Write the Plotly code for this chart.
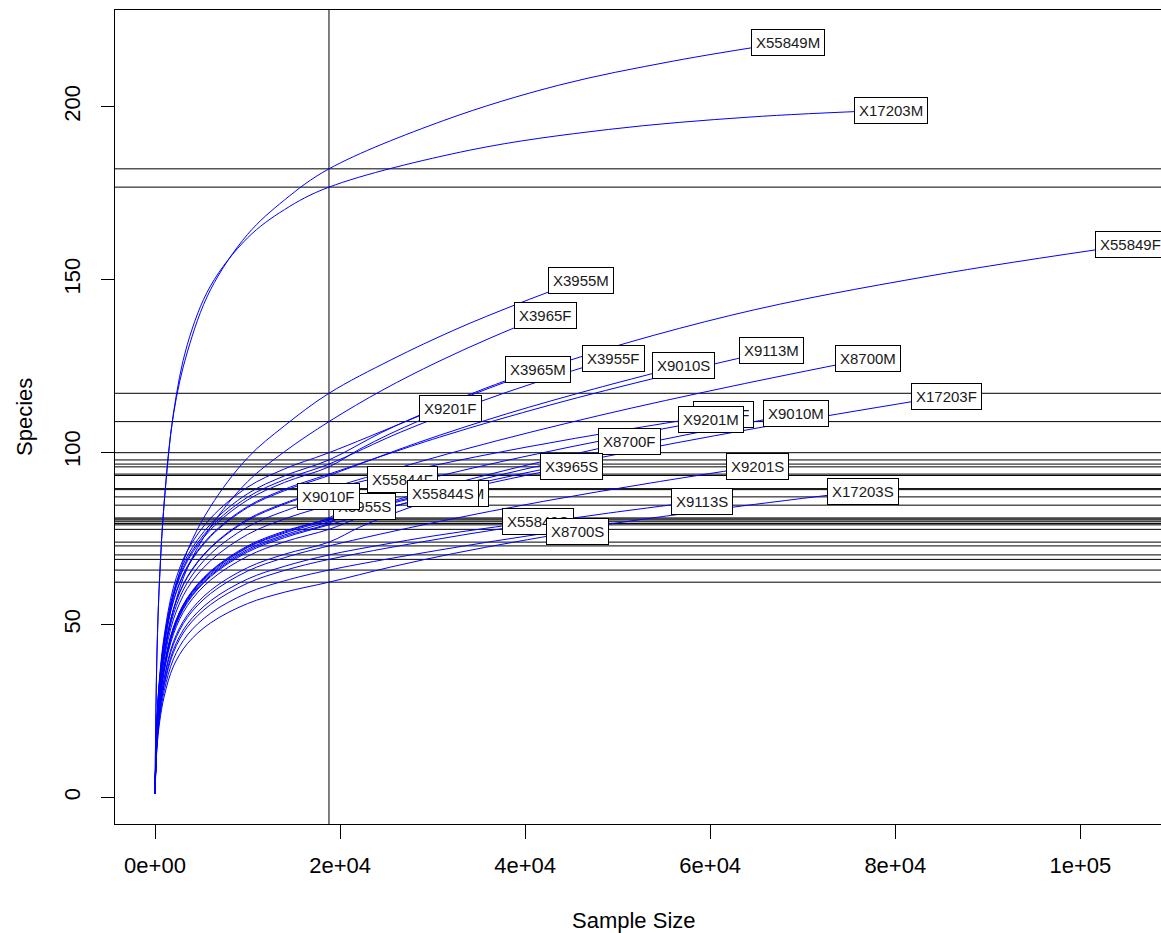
import plotly.graph_objects as go

# ---------------- data ----------------
EARLY_N = [1, 200, 500, 1000, 2000, 3500, 6000, 10000, 14000, 18800]
RARE_SAMPLE = 18800  # rarefaction depth (vertical line)

X55849M_late_n = [31200, 43600, 56000, 68400]
X55849M_s = [1, 40.0, 63.7, 85.5, 111.0, 129.0, 147.0, 163.0, 173.0, 182.0, 196.0, 206.2, 213.2, 218.7]
X17203M_late_n = [34000, 49000, 64300, 79500]
X17203M_s = [1, 40.6, 63.6, 85.7, 111.3, 131.2, 148.1, 162.0, 170.2, 176.7, 187.4, 193.4, 197.0, 199.0]
X55849F_late_n = [40450, 62100, 83750, 105400]
X55849F_s = [1, 22.0, 34.9, 46.9, 60.9, 71.4, 80.8, 89.8, 95.1, 99.8, 122.7, 139.5, 151.0, 160.0]
X3955M_late_n = [25600, 32400, 39200, 46000]
X3955M_s = [1, 21.1, 32.8, 44.5, 58.5, 71.4, 84.2, 98.3, 107.6, 117.0, 126.8, 135.4, 142.9, 149.8]
X3965F_late_n = [24640, 30480, 36310, 42150]
X3965F_s = [1, 19.6, 30.5, 41.3, 54.4, 66.4, 78.3, 91.4, 100.1, 108.8, 118.0, 126.0, 133.1, 139.6]
X3965M_late_n = [24450, 30100, 35750, 41400]
X3965M_s = [1, 21.5, 34.2, 45.9, 59.6, 69.9, 79.1, 87.9, 93.1, 97.7, 105.6, 112.4, 118.5, 124.0]
X3955F_late_n = [26500, 34200, 41900, 49600]
X3955F_s = [1, 21.2, 33.8, 45.4, 58.9, 69.0, 78.2, 86.9, 92.0, 96.5, 105.7, 113.7, 120.8, 127.2]
X9201F_late_n = [22100, 25350, 28600, 31900]
X9201F_s = [1, 21.1, 33.5, 45.0, 58.4, 68.4, 77.5, 86.1, 91.2, 95.7, 100.8, 105.2, 109.1, 112.7]
X9113M_late_n = [30750, 42700, 54650, 66600]
X9113M_s = [1, 20.6, 32.8, 44.0, 57.1, 66.9, 75.8, 84.2, 89.2, 93.6, 104.3, 113.6, 121.8, 129.3]
X9010S_late_n = [28400, 37950, 47500, 57100]
X9010S_s = [1, 20.5, 32.6, 43.8, 56.9, 66.6, 75.5, 83.9, 88.8, 93.2, 102.7, 111.0, 118.3, 125.0]
X8700M_late_n = [33350, 47900, 62450, 77000]
X8700M_s = [1, 19.7, 31.3, 42.0, 54.5, 63.9, 72.4, 80.5, 85.2, 89.4, 100.7, 110.5, 119.1, 127.0]
X9113F_late_n = [29450, 40100, 50750, 61400]
X9113F_s = [1, 19.6, 31.2, 41.9, 54.4, 63.7, 72.2, 80.2, 84.9, 89.1, 95.7, 101.4, 106.4, 111.0]
X9201M_late_n = [29100, 39450, 49800, 60100]
X9201M_s = [1, 18.6, 29.6, 39.8, 51.6, 60.5, 68.5, 76.1, 80.6, 84.6, 92.0, 98.4, 104.1, 109.3]
X55844F_late_n = [20790, 22780, 24760, 26750]
X55844F_s = [1, 17.8, 28.3, 38.0, 49.3, 57.8, 65.5, 72.8, 77.1, 80.9, 84.2, 87.1, 89.6, 91.9]
X17203F_late_n = [35500, 52150, 68800, 85500]
X17203F_s = [1, 17.7, 28.2, 37.9, 49.2, 57.6, 65.3, 72.5, 76.8, 80.6, 91.3, 100.5, 108.7, 116.2]
X9010M_late_n = [31400, 44050, 56700, 69300]
X9010M_s = [1, 17.7, 28.1, 37.7, 49.0, 57.4, 65.0, 72.3, 76.5, 80.3, 89.5, 97.5, 104.6, 111.1]
X8700F_late_n = [26900, 35050, 43200, 51300]
X8700F_s = [1, 17.6, 27.9, 37.5, 48.7, 57.1, 64.6, 71.8, 76.0, 79.8, 86.8, 92.8, 98.1, 103.0]
X3955S_late_n = [19750, 20700, 21650, 22600]
X3955S_s = [1, 17.4, 27.8, 37.3, 48.4, 56.7, 64.2, 71.4, 75.6, 79.3, 80.8, 82.0, 83.2, 84.2]
X3965S_late_n = [25350, 31900, 38450, 45000]
X3965S_s = [1, 17.4, 27.6, 37.1, 48.1, 56.4, 63.9, 71.0, 75.2, 78.9, 84.0, 88.4, 92.3, 95.9]
X55844S_late_n = [21900, 24950, 28000, 31100]
X55844S_s = [1, 17.1, 27.2, 36.5, 47.3, 55.5, 62.9, 69.8, 74.0, 77.6, 80.8, 83.5, 85.9, 88.1]
X55844M_late_n = [22100, 25450, 28800, 32100]
X55844M_s = [1, 16.3, 25.9, 34.7, 45.1, 52.8, 59.9, 66.5, 70.4, 73.9, 78.2, 81.9, 85.1, 88.1]
X9201S_late_n = [30400, 41950, 53500, 65100]
X9201S_s = [1, 16.0, 25.5, 34.2, 44.4, 52.1, 59.0, 65.5, 69.4, 72.8, 79.7, 85.7, 91.0, 95.9]
X55849S_late_n = [24450, 30100, 35750, 41400]
X55849S_s = [1, 15.4, 24.6, 33.0, 42.8, 50.2, 56.9, 63.2, 66.9, 70.2, 73.1, 75.7, 77.9, 80.0]
X9113S_late_n = [28900, 38950, 49000, 59100]
X9113S_s = [1, 15.2, 24.1, 32.4, 42.0, 49.3, 55.8, 62.0, 65.7, 68.9, 74.0, 78.4, 82.3, 85.8]
X17203S_late_n = [33200, 47650, 62100, 76500]
X17203S_s = [1, 14.5, 23.0, 30.9, 40.1, 47.0, 53.3, 59.2, 62.7, 65.8, 72.7, 78.6, 83.9, 88.7]
X8700S_late_n = [25500, 32250, 39000, 45700]
X8700S_s = [1, 13.7, 21.8, 29.3, 38.0, 44.5, 50.5, 56.1, 59.4, 62.3, 66.7, 70.6, 74.0, 77.1]
X9010F_late_n = []
X9010F_s = [1, 19.1, 30.5, 40.9, 53.1, 62.2, 70.5, 78.3, 82.9, 87.0]

X_TICKS = [0, 20000, 40000, 60000, 80000, 100000]
X_TICK_LABELS = ["0e+00", "2e+04", "4e+04", "6e+04", "8e+04", "1e+05"]
Y_TICKS = [0, 50, 100, 150, 200]

# label drawing order (later ones on top)
SAMPLES = [
    ("X9113F", X9113F_late_n, X9113F_s),
    ("X3955S", X3955S_late_n, X3955S_s),
    ("X55844M", X55844M_late_n, X55844M_s),
    ("X55844F", X55844F_late_n, X55844F_s),
    ("X55849S", X55849S_late_n, X55849S_s),
    ("X55849M", X55849M_late_n, X55849M_s),
    ("X17203M", X17203M_late_n, X17203M_s),
    ("X55849F", X55849F_late_n, X55849F_s),
    ("X3955M", X3955M_late_n, X3955M_s),
    ("X3965F", X3965F_late_n, X3965F_s),
    ("X3965M", X3965M_late_n, X3965M_s),
    ("X3955F", X3955F_late_n, X3955F_s),
    ("X9201F", X9201F_late_n, X9201F_s),
    ("X9113M", X9113M_late_n, X9113M_s),
    ("X9010S", X9010S_late_n, X9010S_s),
    ("X8700M", X8700M_late_n, X8700M_s),
    ("X9201M", X9201M_late_n, X9201M_s),
    ("X17203F", X17203F_late_n, X17203F_s),
    ("X9010M", X9010M_late_n, X9010M_s),
    ("X8700F", X8700F_late_n, X8700F_s),
    ("X3965S", X3965S_late_n, X3965S_s),
    ("X55844S", X55844S_late_n, X55844S_s),
    ("X9201S", X9201S_late_n, X9201S_s),
    ("X9113S", X9113S_late_n, X9113S_s),
    ("X17203S", X17203S_late_n, X17203S_s),
    ("X8700S", X8700S_late_n, X8700S_s),
    ("X9010F", X9010F_late_n, X9010F_s),
]

FONT = "Liberation Sans, Arial, sans-serif"

fig = go.Figure()
shapes = []
annotations = []

# vertical line at rarefaction depth
shapes.append(dict(type="line", xref="x", yref="paper", x0=RARE_SAMPLE, x1=RARE_SAMPLE,
                   y0=0, y1=1, line=dict(color="black", width=1), layer="below"))

for name, late_n, s in SAMPLES:
    n = EARLY_N + late_n
    fig.add_trace(go.Scatter(x=n, y=s, mode="lines",
                             line=dict(color="#0000FF", width=1, shape="spline", smoothing=1.0),
                             hoverinfo="skip", showlegend=False))
    # horizontal line at rarefied richness
    rare = s[EARLY_N.index(RARE_SAMPLE)]
    shapes.append(dict(type="line", xref="paper", yref="y", x0=0, x1=1, y0=rare, y1=rare,
                       line=dict(color="black", width=1), layer="below"))
    annotations.append(dict(x=n[-1], y=s[-1], xref="x", yref="y", text=name, showarrow=False,
                            font=dict(family=FONT, size=15, color="#1a1a1a"),
                            bgcolor="white", bordercolor="black", borderwidth=1, borderpad=4,
                            xanchor="center", yanchor="middle"))

# axis titles
annotations.append(dict(text="Sample Size", xref="paper", yref="paper",
                        x=(634 - 115) / 1046, y=-(920 - 824) / 814, showarrow=False,
                        font=dict(family=FONT, size=22, color="black"),
                        xanchor="center", yanchor="middle"))
annotations.append(dict(text="Species", xref="paper", yref="paper",
                        x=-(115 - 24) / 1046, y=0.5, showarrow=False, textangle=-90,
                        font=dict(family=FONT, size=22, color="black"),
                        xanchor="center", yanchor="middle"))

fig.update_layout(
    width=1161, height=933,
    margin=dict(l=115, r=0, t=10, b=109),
    paper_bgcolor="white", plot_bgcolor="white",
    shapes=shapes, annotations=annotations,
    showlegend=False,
    font=dict(family=FONT, size=22, color="black"),
)
fig.update_xaxes(range=[-4323, 108717], tickvals=X_TICKS, ticktext=X_TICK_LABELS,
                 ticks="outside", ticklen=14, tickwidth=1, tickcolor="black",
                 showline=True, linecolor="black", linewidth=1, mirror=True,
                 showgrid=False, zeroline=False, ticklabelstandoff=8,
                 tickfont=dict(family=FONT, size=22, color="black"))
fig.update_yaxes(range=[-7.73, 228.0], tickvals=Y_TICKS,
                 ticks="outside", ticklen=13, tickwidth=1, tickcolor="black",
                 showline=True, linecolor="black", linewidth=1, mirror=False,
                 showgrid=False, zeroline=False, tickangle=-90, ticklabelstandoff=12,
                 tickfont=dict(family=FONT, size=22, color="black"))

fig.write_html("out.html")
